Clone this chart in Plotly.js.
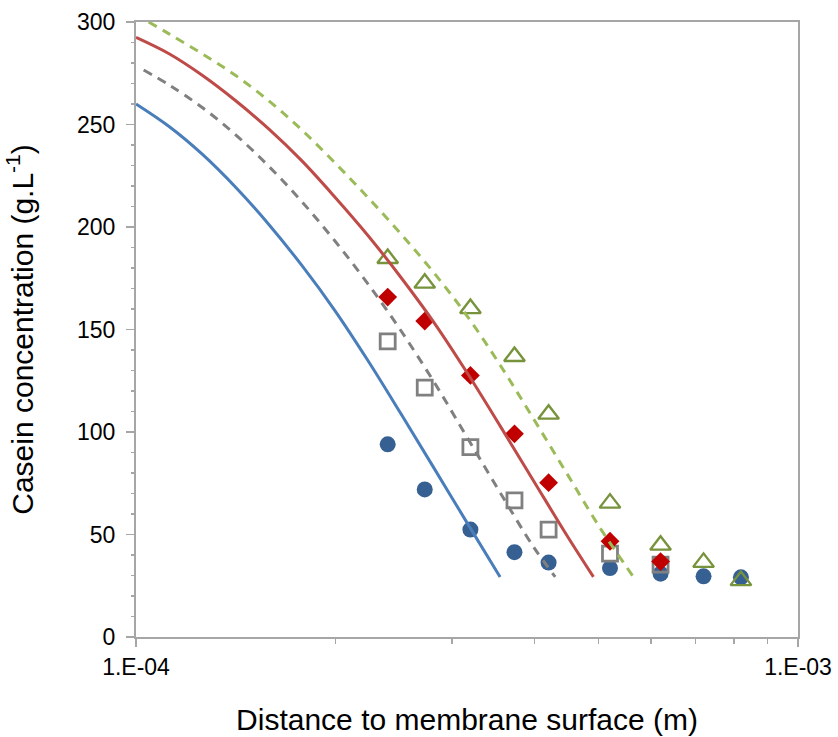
<!DOCTYPE html>
<html>
<head>
<meta charset="utf-8">
<script src="https://cdn.plot.ly/plotly-3.0.1.min.js"></script>
<style>
html,body{margin:0;padding:0;background:#fff;}
#chart{width:838px;height:737px;}
</style>
</head>
<body>
<div id="chart"></div>
<script>
// Measured data (x in units of 1e-4 m, y in g/L)
const blueDataX  = [2.4, 2.73, 3.2, 3.73, 4.2, 5.2, 6.2, 7.2, 8.2];
const blueDataY  = [94, 72, 52.4, 41.4, 36.3, 33.6, 30.9, 29.6, 29.1];
const grayDataX  = [2.4, 2.73, 3.2, 3.73, 4.2, 5.2, 6.2];
const grayDataY  = [144.2, 121.6, 92.6, 66.6, 52.4, 40.7, 35.3];
const redDataX   = [2.4, 2.73, 3.2, 3.73, 4.2, 5.2, 6.2];
const redDataY   = [165.8, 154.1, 127.6, 99.1, 75.3, 46.7, 36.8];
const greenDataX = [2.4, 2.73, 3.2, 3.73, 4.2, 5.2, 6.2, 7.2, 8.2];
const greenDataY = [184.6, 172.6, 160.2, 136.8, 108.7, 65.3, 44.8, 36.4, 27.5];

// Model curves (x in units of 1e-4 m)
const blueFitX  = [1.0, 1.122, 1.259, 1.413, 1.585, 1.778, 1.995, 2.239, 2.512, 2.818, 3.162, 3.548];
const blueFitY  = [260, 249, 235.5, 219.5, 201.5, 181.5, 159.5, 135, 109, 82.5, 55.8, 29.3];
const grayFitX  = [1.027, 1.122, 1.259, 1.413, 1.585, 1.778, 1.995, 2.239, 2.512, 2.818, 3.162, 3.548, 3.981, 4.298];
const grayFitY  = [276.6, 269.3, 258.3, 245.1, 229.8, 212.6, 193.4, 172.4, 149.5, 124.5, 97.5, 70.5, 44.2, 29.3];
const redFitX   = [1.0, 1.122, 1.259, 1.413, 1.585, 1.778, 1.995, 2.239, 2.512, 2.818, 3.162, 3.548, 3.981, 4.467, 4.909];
const redFitY   = [292.5, 284.5, 274, 261.7, 248, 232.5, 214.8, 196, 175.5, 153.5, 129, 103, 76.5, 50, 29.3];
const greenFitX = [1.045, 1.122, 1.259, 1.413, 1.585, 1.778, 1.995, 2.239, 2.512, 2.818, 3.162, 3.548, 3.981, 4.467, 5.012, 5.642];
const greenFitY = [300, 294.2, 284.5, 274, 261.7, 247.5, 231.5, 214.5, 196.7, 177.7, 156.7, 132.7, 106.7, 80.2, 53.7, 29.3];

const xTickVals = [1e-4, 1e-3];
const xTickText = ['1.E-04', '1.E-03'];
const xMinorVals = [2e-4, 3e-4, 4e-4, 5e-4, 6e-4, 7e-4, 8e-4, 9e-4];
const yTickVals = [0, 50, 100, 150, 200, 250, 300];

const sc = a => a.map(v => v * 1e-4);

const traces = [
  {x: sc(blueDataX), y: blueDataY, mode: 'markers', type: 'scatter',
   marker: {symbol: 'circle', size: 16, color: '#376092'}},
  {x: sc(grayDataX), y: grayDataY, mode: 'markers', type: 'scatter',
   marker: {symbol: 'square-open', size: 15, color: '#808080', line: {width: 2.8, color: '#808080'}}},
  {x: sc(redDataX), y: redDataY, mode: 'markers', type: 'scatter',
   marker: {symbol: 'diamond', size: 14.5, color: '#c00000'}},
  {x: sc(greenDataX), y: greenDataY, mode: 'markers', type: 'scatter',
   marker: {symbol: 'triangle-up-open', size: 18, color: '#77933c', line: {width: 2.4, color: '#77933c'}}},
  {x: sc(blueFitX), y: blueFitY, mode: 'lines', type: 'scatter',
   line: {color: '#4a7ebb', width: 3, shape: 'spline', smoothing: 1}},
  {x: sc(redFitX), y: redFitY, mode: 'lines', type: 'scatter',
   line: {color: '#be4b48', width: 3, shape: 'spline', smoothing: 1}},
  {x: sc(grayFitX), y: grayFitY, mode: 'lines', type: 'scatter',
   line: {color: '#808080', width: 3, dash: '9px,7px', shape: 'spline', smoothing: 1}},
  {x: sc(greenFitX), y: greenFitY, mode: 'lines', type: 'scatter',
   line: {color: '#9bbb59', width: 3, dash: '9px,7px', shape: 'spline', smoothing: 1}}
];

const fontFam = 'Liberation Sans, Arial, sans-serif';

const layout = {
  width: 838, height: 737,
  margin: {l: 136, r: 40, t: 22, b: 100},
  paper_bgcolor: '#ffffff', plot_bgcolor: '#ffffff',
  showlegend: false,
  font: {family: fontFam, color: '#000000', size: 23},
  xaxis: {
    type: 'log', range: [-4, -3],
    tickmode: 'array', tickvals: xTickVals, ticktext: xTickText,
    ticks: 'outside', ticklen: 8, tickwidth: 1.5, tickcolor: '#a6a6a6',
    showline: true, linecolor: '#a6a6a6', linewidth: 2, mirror: true,
    showgrid: false, zeroline: false,
    tickfont: {family: fontFam, size: 23, color: '#000'},
    minor: {tickmode: 'array', tickvals: xMinorVals, ticks: 'outside', ticklen: 5, tickwidth: 1.5, tickcolor: '#a6a6a6', showgrid: false},
    title: {text: 'Distance to membrane surface (m)', font: {family: fontFam, size: 30, color: '#000'}, standoff: 30}
  },
  yaxis: {
    range: [0, 300],
    tickmode: 'array', tickvals: yTickVals,
    ticks: 'outside', ticklen: 8, tickwidth: 1.5, tickcolor: '#a6a6a6',
    showline: true, linecolor: '#a6a6a6', linewidth: 2, mirror: true,
    showgrid: false, zeroline: false,
    tickfont: {family: fontFam, size: 23, color: '#000'},
    ticklabelstandoff: 6,
    minor: {dtick: 10, tick0: 0, ticks: 'outside', ticklen: 3, tickwidth: 1.5, tickcolor: '#a6a6a6', showgrid: false},
    title: {text: 'Casein concentration (g.L<sup>-1</sup>)', font: {family: fontFam, size: 30, color: '#000'}, standoff: 35}
  }
};

Plotly.newPlot('chart', traces, layout, {displayModeBar: false, staticPlot: true});
</script>
</body>
</html>
